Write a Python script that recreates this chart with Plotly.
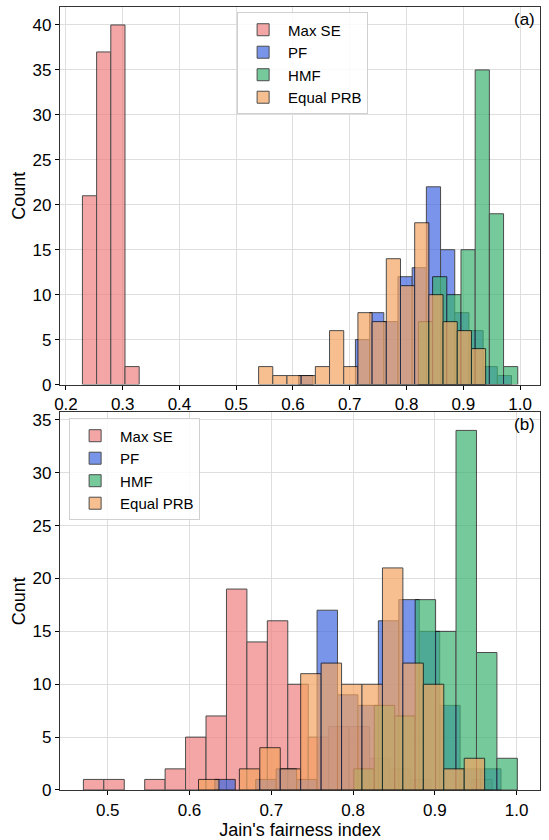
import plotly.graph_objects as go

# ---------------- data (bin width 0.025, counts per bin) ----------------
bin_width = 0.025
series_names = ["Max SE", "PF", "HMF", "Equal PRB"]
series_colors = ["lightcoral", "royalblue", "mediumseagreen", "sandybrown"]

# panel (a)
a_maxse_start = 0.229
a_maxse_counts = [21, 37, 40, 2]
a_pf_start = 0.610
a_pf_counts = [1, 0, 0, 0, 5, 8, 7, 12, 13, 22, 15, 8, 6, 2, 1]
a_hmf_start = 0.821
a_hmf_counts = [7, 12, 10, 15, 35, 19, 2]
a_eq_start = 0.5394
a_eq_counts = [2, 1, 1, 1, 2, 6, 2, 8, 7, 14, 11, 18, 10, 7, 6, 4]

# panel (b)
b_maxse_start = 0.4702
b_maxse_counts = [1, 1, 0, 1, 2, 5, 7, 19, 14, 16, 10, 5, 6, 6, 3, 2, 1, 0, 0, 1]
b_pf_start = 0.631
b_pf_counts = [1, 0, 1, 2, 1, 17, 9, 8, 16, 18, 15, 8, 2, 2]
b_hmf_start = 0.801
b_hmf_counts = [2, 8, 7, 18, 15, 34, 13, 3]
b_eq_start = 0.611
b_eq_counts = [1, 0, 2, 4, 2, 11, 12, 10, 10, 21, 12, 10, 2, 3]

x_ticks_a = [0.2, 0.3, 0.4, 0.5, 0.6, 0.7, 0.8, 0.9, 1.0]
x_ticks_b = [0.5, 0.6, 0.7, 0.8, 0.9, 1.0]
y_ticks_a = [0, 5, 10, 15, 20, 25, 30, 35, 40]
y_ticks_b = [0, 5, 10, 15, 20, 25, 30, 35]

FONT = "Liberation Sans, Arial, sans-serif"

fig = go.Figure()


def add_hist(start, counts, name, color, xa, ya, legend):
    xs, ys = [], []
    for i, c in enumerate(counts):
        if c > 0:
            xs.append(start + (i + 0.5) * bin_width)
            ys.append(c)
    fig.add_trace(go.Bar(
        x=xs, y=ys, width=bin_width, name=name,
        marker=dict(color=color, line=dict(color="black", width=1)),
        opacity=0.7, xaxis=xa, yaxis=ya, legend=legend,
    ))


panel_a = [(a_maxse_start, a_maxse_counts), (a_pf_start, a_pf_counts),
           (a_hmf_start, a_hmf_counts), (a_eq_start, a_eq_counts)]
panel_b = [(b_maxse_start, b_maxse_counts), (b_pf_start, b_pf_counts),
           (b_hmf_start, b_hmf_counts), (b_eq_start, b_eq_counts)]

for (s, c), n, col in zip(panel_a, series_names, series_colors):
    add_hist(s, c, n, col, "x", "y", "legend")
for (s, c), n, col in zip(panel_b, series_names, series_colors):
    add_hist(s, c, n, col, "x2", "y2", "legend2")

axis_common = dict(
    showline=True, linecolor="#333333", linewidth=1.3, mirror=True,
    showgrid=True, gridcolor="#dedede", gridwidth=1,
    ticks="outside", ticklen=4, tickwidth=1, tickcolor="black",
    tickfont=dict(family=FONT, size=17, color="black"),
    zeroline=False,
)

legend_common = dict(
    xanchor="left", yanchor="top", itemwidth=40,
    bgcolor="rgba(255,255,255,0.85)", bordercolor="#d0d0d0", borderwidth=1,
    font=dict(family=FONT, size=15),
)

fig.update_layout(
    width=549, height=840,
    margin=dict(l=60, r=9, t=5, b=47),
    paper_bgcolor="white", plot_bgcolor="white",
    barmode="overlay",
    font=dict(family=FONT, color="black"),
    xaxis=dict(domain=[0, 1], anchor="y", range=[0.1895, 1.0352],
               tickvals=x_ticks_a, ticktext=[f"{v:.1f}" for v in x_ticks_a], **axis_common),
    yaxis=dict(domain=[0.5178, 1], anchor="x", range=[0, 42],
               tickvals=y_ticks_a,
               title=dict(text="Count", font=dict(family=FONT, size=18), standoff=2),
               **axis_common),
    xaxis2=dict(domain=[0, 1], anchor="y2", range=[0.4416, 1.0287],
                tickvals=x_ticks_b, ticktext=[f"{v:.1f}" for v in x_ticks_b],
                title=dict(text="Jain's fairness index", font=dict(family=FONT, size=18), standoff=3),
                **axis_common),
    yaxis2=dict(domain=[0, 0.4822], anchor="x2", range=[0, 35.7],
                tickvals=y_ticks_b,
                title=dict(text="Count", font=dict(family=FONT, size=18), standoff=2),
                **axis_common),
    legend=dict(x=0.369, y=0.993, **legend_common),
    legend2=dict(x=0.019, y=0.4745, **legend_common),
    annotations=[
        dict(text="(a)", xref="x domain", yref="y domain", x=1, y=1,
             xanchor="right", yanchor="top", xshift=-3, yshift=-1, showarrow=False,
             font=dict(family=FONT, size=17, color="black")),
        dict(text="(b)", xref="x2 domain", yref="y2 domain", x=1, y=1,
             xanchor="right", yanchor="top", xshift=-3, yshift=-1, showarrow=False,
             font=dict(family=FONT, size=17, color="black")),
    ],
)

fig.write_html("out.html")
